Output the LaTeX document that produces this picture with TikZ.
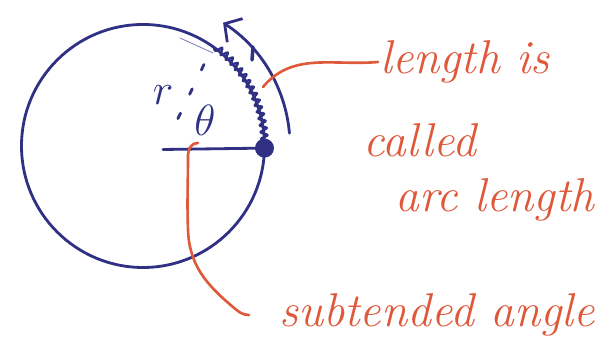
\documentclass[tikz,border=0pt]{standalone}
\usepackage{tikz}
\usetikzlibrary{positioning, arrows.meta, decorations.pathmorphing, calc}
\definecolor{penblue}{RGB}{48,48,132}
\definecolor{penred}{RGB}{222,88,58}
\tikzset{>=latex}
\tikzset{
    blueink/.style = {draw=penblue, line width=1.6pt, line cap=round, line join=round},
    redink/.style = {draw=penred, line width=1.5pt, line cap=round, line join=round},
    note/.style = {text=penred, font=\fontsize{27}{30}\selectfont\itshape, inner sep=1pt},
    symbol/.style = {text=penblue, font=\fontsize{23}{25}\selectfont, inner sep=1pt}
}

\begin{document}
\begin{tikzpicture}
		\useasboundingbox (0,0) rectangle (12.26,7.2);
		\coordinate (c) at (2.86,4.28);
		\coordinate (o) at (3.26,4.21);
		\coordinate (p) at ($(c)+(-1:2.43)$);
		\coordinate (q) at ($(c)+(55:2.43)$);
		\draw [blueink] (c) circle (2.43);
		\draw [blueink, line width=0.5pt, draw opacity=0.6] (3.60,6.44) -- (4.26,6.14);
		\draw [blueink] (o) -- (p);
		\draw [blueink, dash pattern=on 0.12cm off 0.42cm] ($(o)!0.3!(q)$) -- (q);
		\draw [blueink, line width=1.3pt, decorate, decoration={snake, amplitude=1.9pt, segment length=4pt}] (p) arc[start angle=-1, end angle=55, radius=2.43];
		\draw [blueink, line width=2pt] (5.06,6.26) -- (5.04,6.00);
		\draw [blueink, -{Straight Barb[length=7pt,width=16pt]}] ($(c)+(5:2.94)$) arc[start angle=5, end angle=57, radius=2.94];
		\node (dot) [circle, fill=penblue, inner sep=0pt, minimum size=0.38cm] at (p) {};
		\node (r) [symbol] at (3.26,5.30) {$r$};
		\node (theta) [symbol] at (4.10,4.80) {$\theta$};
		\node (lenis) [note] at (9.30,5.96) {length is};
		\node (called) [note] at (8.40,4.40) {called};
		\node (arclen) [note] at (9.90,3.20) {arc length};
		\node (subang) [note] at (8.74,0.90) {subtended angle};
		\coordinate (arcpt) at (5.26,5.46);
		\coordinate (anglept) at (3.96,4.34);
		\draw [redink] (arcpt) to[out=50, in=185] (lenis.west);
		\draw [redink] (anglept) to[out=175, in=90] (3.76,4.10) to[out=-90, in=92] (3.76,2.60) to[out=-88, in=140] (4.66,1.06) to[out=-40, in=180] ([xshift=-16pt]subang.west);
	\end{tikzpicture}
\end{document}
